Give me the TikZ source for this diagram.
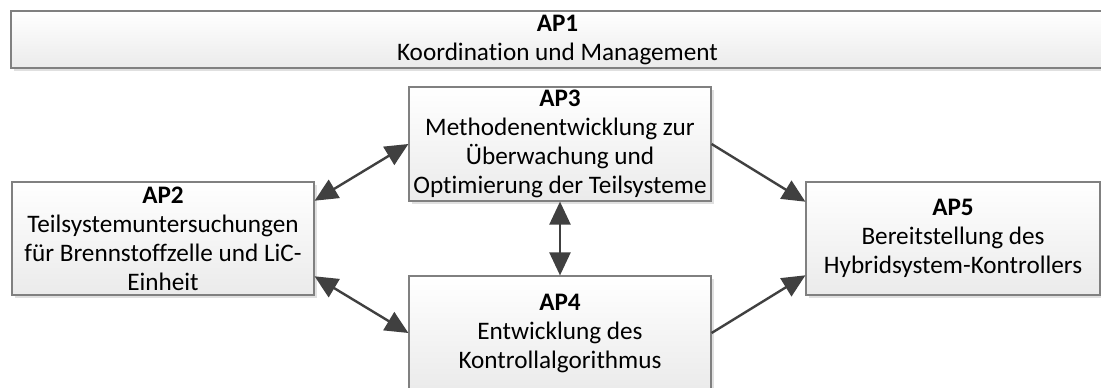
\documentclass[tikz,border=0pt]{standalone}
\usepackage{fontspec}
\setmainfont{Carlito}[Ligatures=NoCommon]
\usetikzlibrary{arrows.meta,shadows,positioning}

\tikzset{
  apbox/.style={draw=black!50, line width=1.2pt, top color=white, bottom color=black!8,
    drop shadow={shadow xshift=3pt, shadow yshift=-3pt, fill=black!12, opacity=1},
    align=center, inner sep=0pt, font=\fontsize{25.2}{29}\selectfont},
  link/.style={draw=black!75, line width=2.4pt},
  tip/.style={-{Triangle[length=23pt,width=21pt]}},
  bothtip/.style={{Triangle[length=23pt,width=21pt]}-{Triangle[length=23pt,width=21pt]}}
}

\begin{document}
\begin{tikzpicture}[x=1pt, y=-1pt]
\useasboundingbox (0,0) rectangle (1101,388);
\node[apbox, minimum width=1093pt, minimum height=57pt] (ap1) at (557.5,39.5) {\textbf{AP1}\\Koordination und Management};
\node[apbox, minimum width=302pt, minimum height=113pt] (ap2) at (163,238.5) {\textbf{AP2}\\Teilsystemuntersuchungen\\für Brennstoffzelle und LiC-\\Einheit};
\node[apbox, minimum width=302pt, minimum height=114pt] (ap3) at (560,144) {\textbf{AP3}\\Methodenentwicklung zur\\Überwachung und\\Optimierung der Teilsysteme};
\node[apbox, minimum width=302pt, minimum height=114pt] (ap4) at (560,333) {\textbf{AP4}\\Entwicklung des\\Kontrollalgorithmus};
\node[apbox, minimum width=294pt, minimum height=113pt] (ap5) at (953,238.5) {\textbf{AP5}\\Bereitstellung des\\Hybridsystem-Kontrollers};

\draw[link, bothtip] (ap2.14) -- (ap3.west);
\draw[link, bothtip] (ap2.-14) -- (ap4.west);
\draw[link, bothtip] (ap3.south) -- (ap4.north);
\draw[link, tip] (ap3.east) -- (ap5.166);
\draw[link, tip] (ap4.east) -- (ap5.194);

\end{tikzpicture}
\end{document}
